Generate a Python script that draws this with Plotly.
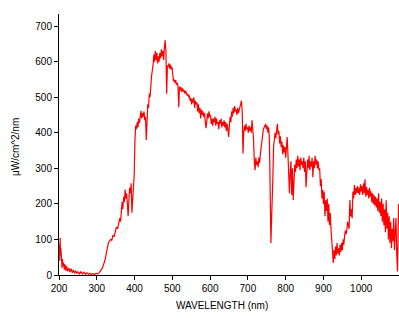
import plotly.graph_objects as go

wavelength = [
    200, 201, 202, 203, 204, 205, 206, 207, 208, 209, 210, 212, 214, 216, 218, 220,
    223, 226, 229, 232, 235, 238, 241, 244, 247, 250, 254, 258, 262, 266, 270, 274,
    278, 282, 286, 290, 294, 298, 302, 306,
    310, 314, 318, 322, 326, 329, 331, 334, 337, 340, 343, 346, 349, 352, 355, 358,
    361, 363, 365, 367, 369, 371, 373, 375, 377, 379, 381, 383, 385, 387, 389, 391,
    393, 395, 397, 399, 401, 403, 405, 407, 409, 411, 413, 415, 417, 419, 421, 423,
    425, 427, 429, 431, 433, 435, 437, 439, 441, 443, 445, 447, 449, 451, 453, 455,
    457, 459, 461, 463, 465, 467, 469, 471, 473, 475, 477, 479, 481, 483, 485, 487,
    489, 491, 493, 495, 497, 499, 501, 503, 505, 507, 509, 511, 513, 515, 517, 519,
    521, 523, 525, 527, 529, 531, 533, 535, 537, 539, 541, 543, 545, 547, 549, 551,
    553, 555, 557, 559, 561, 563, 565, 567, 569, 571, 573, 575, 577, 579, 581, 583,
    585, 587, 589, 591, 593, 595, 597, 599, 601, 603, 605, 607, 609, 611, 613, 615,
    617, 619, 621, 623, 625, 627, 629, 631, 633, 635, 637, 639, 641, 643, 645, 647,
    649, 651, 653, 655, 657, 659, 661, 663, 665, 667, 669, 671, 673, 675, 677, 679,
    681, 683, 685, 687, 689, 691, 693, 695, 697, 699, 701, 703, 705, 707, 709, 711,
    713, 715, 717, 719, 721, 723, 725, 727, 729, 731, 733, 735, 737, 739, 741, 743,
    745, 747, 749, 751, 753, 755, 757, 759, 760, 761, 762, 763, 764, 766, 768, 770,
    772, 774, 776, 778, 780, 782, 784, 786, 788, 790, 792, 794, 796, 798, 800, 802,
    804, 806, 808, 810, 812, 814, 816, 818, 820, 822, 824, 826, 828, 830, 832, 834,
    836, 838, 840, 842, 844, 846, 848, 850, 852, 854, 856, 858, 860, 862, 864, 866,
    868, 870, 872, 874, 876, 878, 880, 882, 884, 886, 888, 890, 892, 894, 896, 898,
    900, 902, 904, 906, 908, 910, 912, 914, 916, 918, 920, 922, 924, 926, 928, 930,
    932, 934, 936, 938, 940, 942, 944, 946, 948, 950, 952, 954, 956, 958, 960, 962,
    964, 966, 968, 970, 972, 974, 976, 978, 980, 982, 984, 986, 988, 990, 992, 994,
    996, 998, 1000, 1002, 1004, 1006, 1008, 1010, 1012, 1014, 1016, 1018, 1020, 1022, 1024, 1026,
    1028, 1030, 1032, 1034, 1036, 1038, 1040, 1042, 1044, 1046, 1048, 1050, 1052, 1054, 1056, 1058,
    1060, 1062, 1064, 1066, 1068, 1070, 1072, 1074, 1076, 1078, 1080, 1082, 1084, 1086, 1088, 1090,
    1092, 1094, 1096, 1099,
]

irradiance = [
    60, 85, 40, 105, 55, 75, 30, 60, 20, 45, 25, 35, 15, 30, 12, 25,
    10, 20, 8, 18, 6, 14, 5, 12, 4, 10, 3, 9, 3, 8, 2, 6,
    2, 5, 1, 4, 1, 5, 3, 6,
    12, 18, 30, 42, 65, 85, 92, 95, 100, 98, 112, 108, 125, 135, 130, 150,
    160, 150, 195, 205, 185, 220, 205, 240, 215, 230, 200, 165, 210, 245, 230, 258,
    175, 215, 240, 280, 380, 420, 410, 430, 415, 440, 428, 455, 462, 440, 455, 445,
    460, 435, 445, 380, 420, 480, 470, 510, 500, 540, 560, 575, 590, 620, 600, 630,
    605, 625, 595, 615, 600, 625, 610, 635, 615, 630, 605, 640, 660, 630, 510, 590,
    585, 595, 580, 592, 578, 585, 550, 545, 550, 540, 548, 535, 540, 530, 472, 530,
    520, 528, 515, 525, 518, 520, 510, 518, 512, 505, 510, 500, 505, 490, 498, 480,
    495, 485, 500, 470, 490, 480, 485, 460, 480, 455, 470, 440, 465, 450, 460, 445,
    455, 440, 413, 430, 455, 440, 460, 445, 450, 425, 440, 420, 440, 430, 445, 420,
    440, 425, 430, 410, 435, 425, 440, 415, 430, 420, 435, 415, 430, 405, 425, 410,
    388, 420, 445, 430, 460, 445, 470, 455, 475, 460, 465, 450, 470, 455, 465, 470,
    480, 490, 460, 342, 400, 420, 405, 425, 410, 415, 400, 420, 405, 415, 400, 435,
    410, 380, 320, 295, 330, 310, 320, 303, 330, 315, 340, 360, 380, 395, 410, 415,
    420, 425, 410, 420, 400, 415, 380, 200, 120, 90, 130, 165, 150, 270, 360, 380,
    400, 385, 415, 425, 395, 405, 370, 390, 360, 375, 340, 365, 345, 360, 330, 350,
    388, 340, 300, 230, 290, 320, 225, 300, 211, 260, 310, 290, 325, 300, 335, 305,
    325, 295, 330, 310, 320, 300, 330, 290, 320, 247, 310, 325, 300, 335, 295, 320,
    305, 330, 275, 320, 300, 335, 310, 325, 300, 320, 295, 300, 250, 270, 215, 240,
    200, 235, 165, 210, 180, 215, 150, 200, 140, 175, 130, 100, 60, 34, 70, 45,
    80, 55, 90, 60, 75, 55, 85, 65, 90, 70, 100, 85, 110, 125, 115, 126,
    150, 135, 130, 211, 165, 185, 160, 235, 215, 253, 225, 245, 230, 250, 230, 245,
    225, 255, 235, 250, 225, 258, 230, 269, 220, 248, 225, 240, 215, 245, 220, 235,
    205, 230, 200, 225, 195, 220, 190, 215, 180, 230, 175, 205, 165, 215, 150, 200,
    140, 185, 120, 210, 130, 175, 100, 165, 90, 150, 75, 130, 95, 160, 70, 120,
    160, 60, 10, 200,
]

fig = go.Figure()
fig.add_trace(go.Scatter(
    x=wavelength, y=irradiance, mode="lines",
    line=dict(color="#ff0000", width=1.2),
    hoverinfo="skip", showlegend=False,
))

axis_font = dict(family="Arial, Liberation Sans, sans-serif", size=10, color="black")

fig.update_layout(
    width=399, height=322,
    margin=dict(l=59, r=0, t=14, b=47),
    paper_bgcolor="white", plot_bgcolor="white",
    font=axis_font,
    xaxis=dict(
        range=[200, 1100], dtick=100, tick0=200,
        showline=True, linecolor="black", linewidth=1,
        ticks="outside", ticklen=4, tickcolor="black",
        showgrid=False, zeroline=False, tickfont=axis_font,
    ),
    yaxis=dict(
        range=[0, 734], dtick=100, tick0=0,
        showline=True, linecolor="black", linewidth=1,
        ticks="outside", ticklen=4, tickcolor="black",
        showgrid=False, zeroline=False, tickfont=axis_font,
    ),
    annotations=[
        dict(text="WAVELENGTH (nm)", xref="paper", yref="paper",
             x=(222 - 59) / 340, y=-(305 - 275) / 261, xanchor="center", yanchor="middle",
             showarrow=False, font=axis_font),
        dict(text="μW/cm^2/nm", xref="paper", yref="paper",
             x=-(59 - 15) / 340, y=(275 - 147) / 261, xanchor="center", yanchor="middle",
             textangle=-90, showarrow=False, font=axis_font),
    ],
)

fig.write_html(
    "out.html",
    config={"displayModeBar": False, "staticPlot": True},
    post_script="document.body.style.margin='0';document.body.style.overflow='hidden';",
)
